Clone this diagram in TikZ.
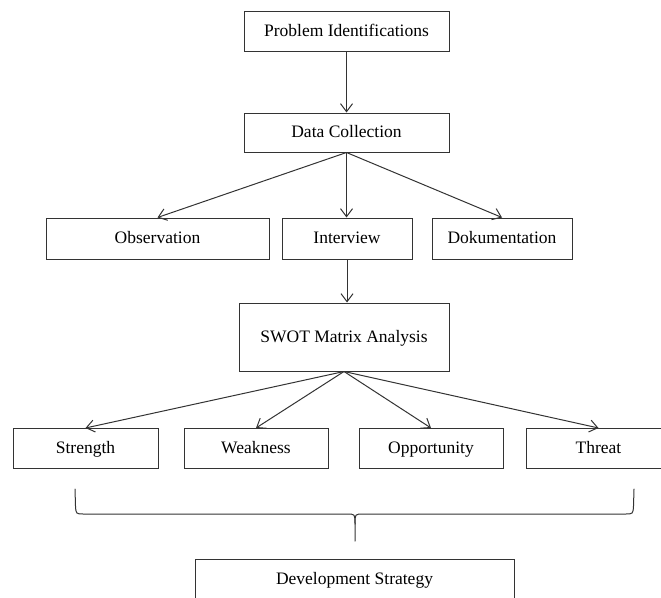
\documentclass[tikz,border=0pt]{standalone}
\usepackage{fontspec}
\setmainfont{Liberation Serif}
\usetikzlibrary{arrows.meta}
\usepackage{xcolor}

\begin{document}
\begin{tikzpicture}[x=1pt,y=-1pt,
    box/.style={draw=black!80, line width=1pt, inner sep=0pt, text height=13pt, text depth=3pt, font=\fontsize{17.5}{20}\selectfont},
    link/.style={draw=black!80, line width=1pt, -{Straight Barb[length=8pt,width=12pt]}},
    brace/.style={draw=black!80, line width=1pt, line cap=round}]
    \clip (0,0) rectangle (661,597);
    \def\ya{31}
    \def\yb{132.5}
    \def\yc{238.5}
    \def\yd{337}
    \def\ye{448.5}
    \def\yf{579}
    % top chain
    \node[box, minimum width=205pt, minimum height=40pt] (prob) at (346.5,\ya) {Problem Identifications};
    \node[box, minimum width=205pt, minimum height=39pt] (data) at (346.5,\yb) {Data Collection};
    % collection methods
    \node[box, minimum width=223pt, minimum height=41pt] (obs) at (157.5,\yc) {Observation};
    \node[box, minimum width=130pt, minimum height=41pt] (intv) at (347,\yc) {Interview};
    \node[box, minimum width=140pt, minimum height=41pt] (dok) at (502,\yc) {Dokumentation};
    \node[box, minimum width=210pt, minimum height=68pt] (swot) at (344,\yd) {SWOT Matrix Analysis};
    % swot parts
    \node[box, minimum width=145pt, minimum height=40pt] (str) at (85.5,\ye) {Strength};
    \node[box, minimum width=144pt, minimum height=40pt] (weak) at (256,\ye) {Weakness};
    \node[box, minimum width=144pt, minimum height=40pt] (opp) at (431,\ye) {Opportunity};
    \node[box, minimum width=145pt, minimum height=40pt] (thr) at (598.5,\ye) {Threat};
    \node[box, minimum width=319pt, minimum height=40pt] (dev) at (354.5,\yf) {Development Strategy};
    \draw[link] (prob) -- (data);
    \draw[link] (data.south) -- (obs.north);
    \draw[link] (data.south) -- (data.south |- intv.north);
    \draw[link] (data.south) -- (dok.north);
    \draw[link] (intv.south) -- (intv.south |- swot.north);
    \draw[link] (swot.south) -- (str.north);
    \draw[link] (swot.south) -- (weak.north);
    \draw[link] (swot.south) -- (opp.north);
    \draw[link] (swot.south) -- (thr.north);
    % brace
    \draw[brace] (75,489) -- (75.5,506) .. controls (76,514) .. (84,514) -- (347,514) .. controls (355,514) .. (355,524) -- (355,541);
    \draw[brace] (634,489) -- (633.5,506) .. controls (633,514) .. (625,514) -- (363,514) .. controls (355,514) .. (355,524);
\end{tikzpicture}
\end{document}
